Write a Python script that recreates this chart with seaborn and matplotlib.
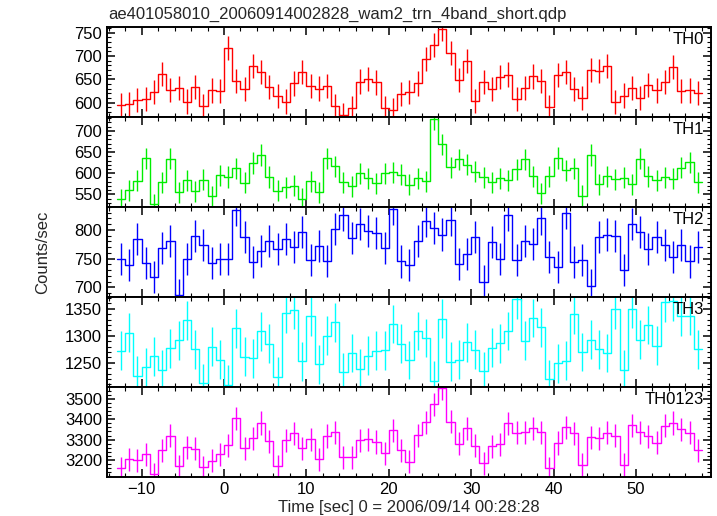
import numpy as np
import pandas as pd
import matplotlib
matplotlib.use("Agg")
import matplotlib.pyplot as plt
import seaborn as sns
from matplotlib.ticker import MultipleLocator, FixedLocator, NullFormatter

title = "ae401058010_20060914002828_wam2_trn_4band_short.qdp"
xlabel = "Time [sec] 0 = 2006/09/14 00:28:28"
ylabel = "Counts/sec"
bands = ["TH0", "TH1", "TH2", "TH3", "TH0123"]
colors = ["#ff0000", "#00ee00", "#0000ff", "#00ffff", "#ff00ff"]

t_first_edge = -13.0
bin_width = 1.0

th0 = [595, 596, 605, 607, 623, 661, 627, 631, 602, 633, 593, 626, 625, 717, 646, 629,
       679, 666, 634, 614, 602, 641, 665, 636, 630, 636, 592, 573, 588, 645, 651, 643,
       588, 584, 618, 623, 641, 693, 724, 757, 707, 648, 689, 604, 644, 629, 654, 660,
       608, 631, 656, 646, 591, 659, 665, 629, 610, 670, 668, 679, 601, 615, 631, 609,
       637, 626, 644, 676, 625, 626, 621]
th1 = [538, 560, 582, 635, 526, 578, 634, 555, 583, 557, 585, 545, 595, 591, 612, 577,
       624, 643, 591, 559, 567, 570, 540, 581, 555, 635, 616, 578, 569, 600, 588, 576,
       600, 602, 596, 573, 588, 581, 728, 668, 614, 633, 620, 604, 590, 578, 588, 583,
       609, 633, 593, 552, 593, 636, 607, 612, 546, 643, 574, 593, 586, 589, 574, 634,
       593, 583, 590, 587, 613, 626, 578]
th2 = [750, 739, 784, 742, 718, 768, 781, 687, 749, 790, 773, 742, 749, 750, 835, 788,
       744, 764, 780, 766, 784, 770, 796, 747, 772, 746, 801, 826, 786, 810, 798, 794,
       768, 837, 745, 739, 781, 816, 803, 792, 817, 740, 758, 787, 710, 779, 749, 826,
       747, 780, 776, 820, 753, 735, 830, 744, 747, 703, 788, 792, 790, 730, 811, 796,
       766, 787, 774, 752, 774, 745, 770]
th3 = [1272, 1306, 1226, 1242, 1262, 1237, 1277, 1292, 1329, 1275, 1212, 1280, 1256, 1209,
       1314, 1261, 1258, 1308, 1285, 1224, 1342, 1348, 1253, 1336, 1247, 1300, 1325, 1233,
       1268, 1239, 1263, 1272, 1273, 1322, 1285, 1255, 1309, 1296, 1217, 1332, 1252, 1256,
       1288, 1274, 1234, 1278, 1286, 1309, 1368, 1291, 1333, 1316, 1219, 1249, 1254, 1340,
       1270, 1293, 1275, 1268, 1349, 1237, 1350, 1293, 1320, 1282, 1362, 1364, 1336, 1337,
       1275]
th0123 = [3158, 3203, 3198, 3227, 3129, 3247, 3319, 3168, 3262, 3255, 3163, 3196, 3227, 3272,
          3405, 3257, 3306, 3382, 3291, 3168, 3296, 3331, 3257, 3301, 3204, 3318, 3336, 3213,
          3213, 3296, 3301, 3288, 3232, 3346, 3247, 3191, 3321, 3385, 3474, 3553, 3388, 3280,
          3356, 3270, 3183, 3267, 3277, 3380, 3334, 3337, 3356, 3336, 3158, 3283, 3360, 3331,
          3175, 3311, 3306, 3334, 3319, 3175, 3370, 3336, 3316, 3285, 3369, 3382, 3351, 3334,
          3247]
series = [th0, th1, th2, th3, th0123]
errors = [26, 25, 28, 36, 57]

ylims = [(569, 762), (520, 733), (683, 840), (1205, 1372), (3116, 3559)]
yticks = [[600, 650, 700, 750], [550, 600, 650, 700], [700, 750, 800],
          [1250, 1300, 1350], [3200, 3300, 3400, 3500]]
yminor = [10, 10, 10, 10, 20]
xlim = (-14.2, 59.1)

sns.set_style("ticks")
plt.rcParams["font.family"] = ["Liberation Sans", "DejaVu Sans"]
plt.rcParams["font.size"] = 12

fig, axes = plt.subplots(5, 1, sharex=True, figsize=(7.17, 5.16), dpi=100)
fig.subplots_adjust(left=107 / 717, right=711 / 717, top=1 - 27 / 516,
                    bottom=1 - 477 / 516, hspace=0)

for ax, name, col, vals, err, yl, yt, ym in zip(axes, bands, colors, series, errors,
                                                 ylims, yticks, yminor):
    n = len(vals)
    edges = t_first_edge + bin_width * np.arange(n + 1)
    centers = edges[:-1] + bin_width / 2
    df = pd.DataFrame({"t": edges, "rate": list(vals) + [vals[-1]]})
    sns.lineplot(data=df, x="t", y="rate", drawstyle="steps-post", color=col,
                 lw=1.0, ax=ax, estimator=None, legend=False)
    ax.errorbar(centers, vals, yerr=err, fmt="none", ecolor=col, elinewidth=1.0,
                capsize=0)
    ax.set_xlim(*xlim)
    ax.set_ylim(*yl)
    ax.yaxis.set_major_locator(FixedLocator(yt))
    ax.yaxis.set_minor_locator(MultipleLocator(ym))
    ax.xaxis.set_major_locator(MultipleLocator(10))
    ax.xaxis.set_minor_locator(MultipleLocator(2))
    ax.set_xlabel("")
    ax.set_ylabel("")
    ax.tick_params(which="both", direction="in", top=True, right=True, colors="black",
                   labelsize=12)
    ax.tick_params(which="major", length=5.5, width=1.1)
    ax.tick_params(which="minor", length=3, width=0.8)
    for sp in ax.spines.values():
        sp.set_visible(True)
        sp.set_linewidth(1.4)
        sp.set_color("black")
    ax.text(0.988, 0.95, name, transform=ax.transAxes, ha="right", va="top",
            fontsize=12, color="black")

axes[-1].set_xlabel(xlabel, fontsize=12, labelpad=2)
fig.text(0.06, (1 - 27 / 516 + 1 - 477 / 516) / 2, ylabel, rotation=90,
         ha="center", va="center", fontsize=12)
fig.text(108 / 717, 1 - 14 / 516, title, ha="left", va="center", fontsize=12)

fig.savefig("out.png", dpi=100)
